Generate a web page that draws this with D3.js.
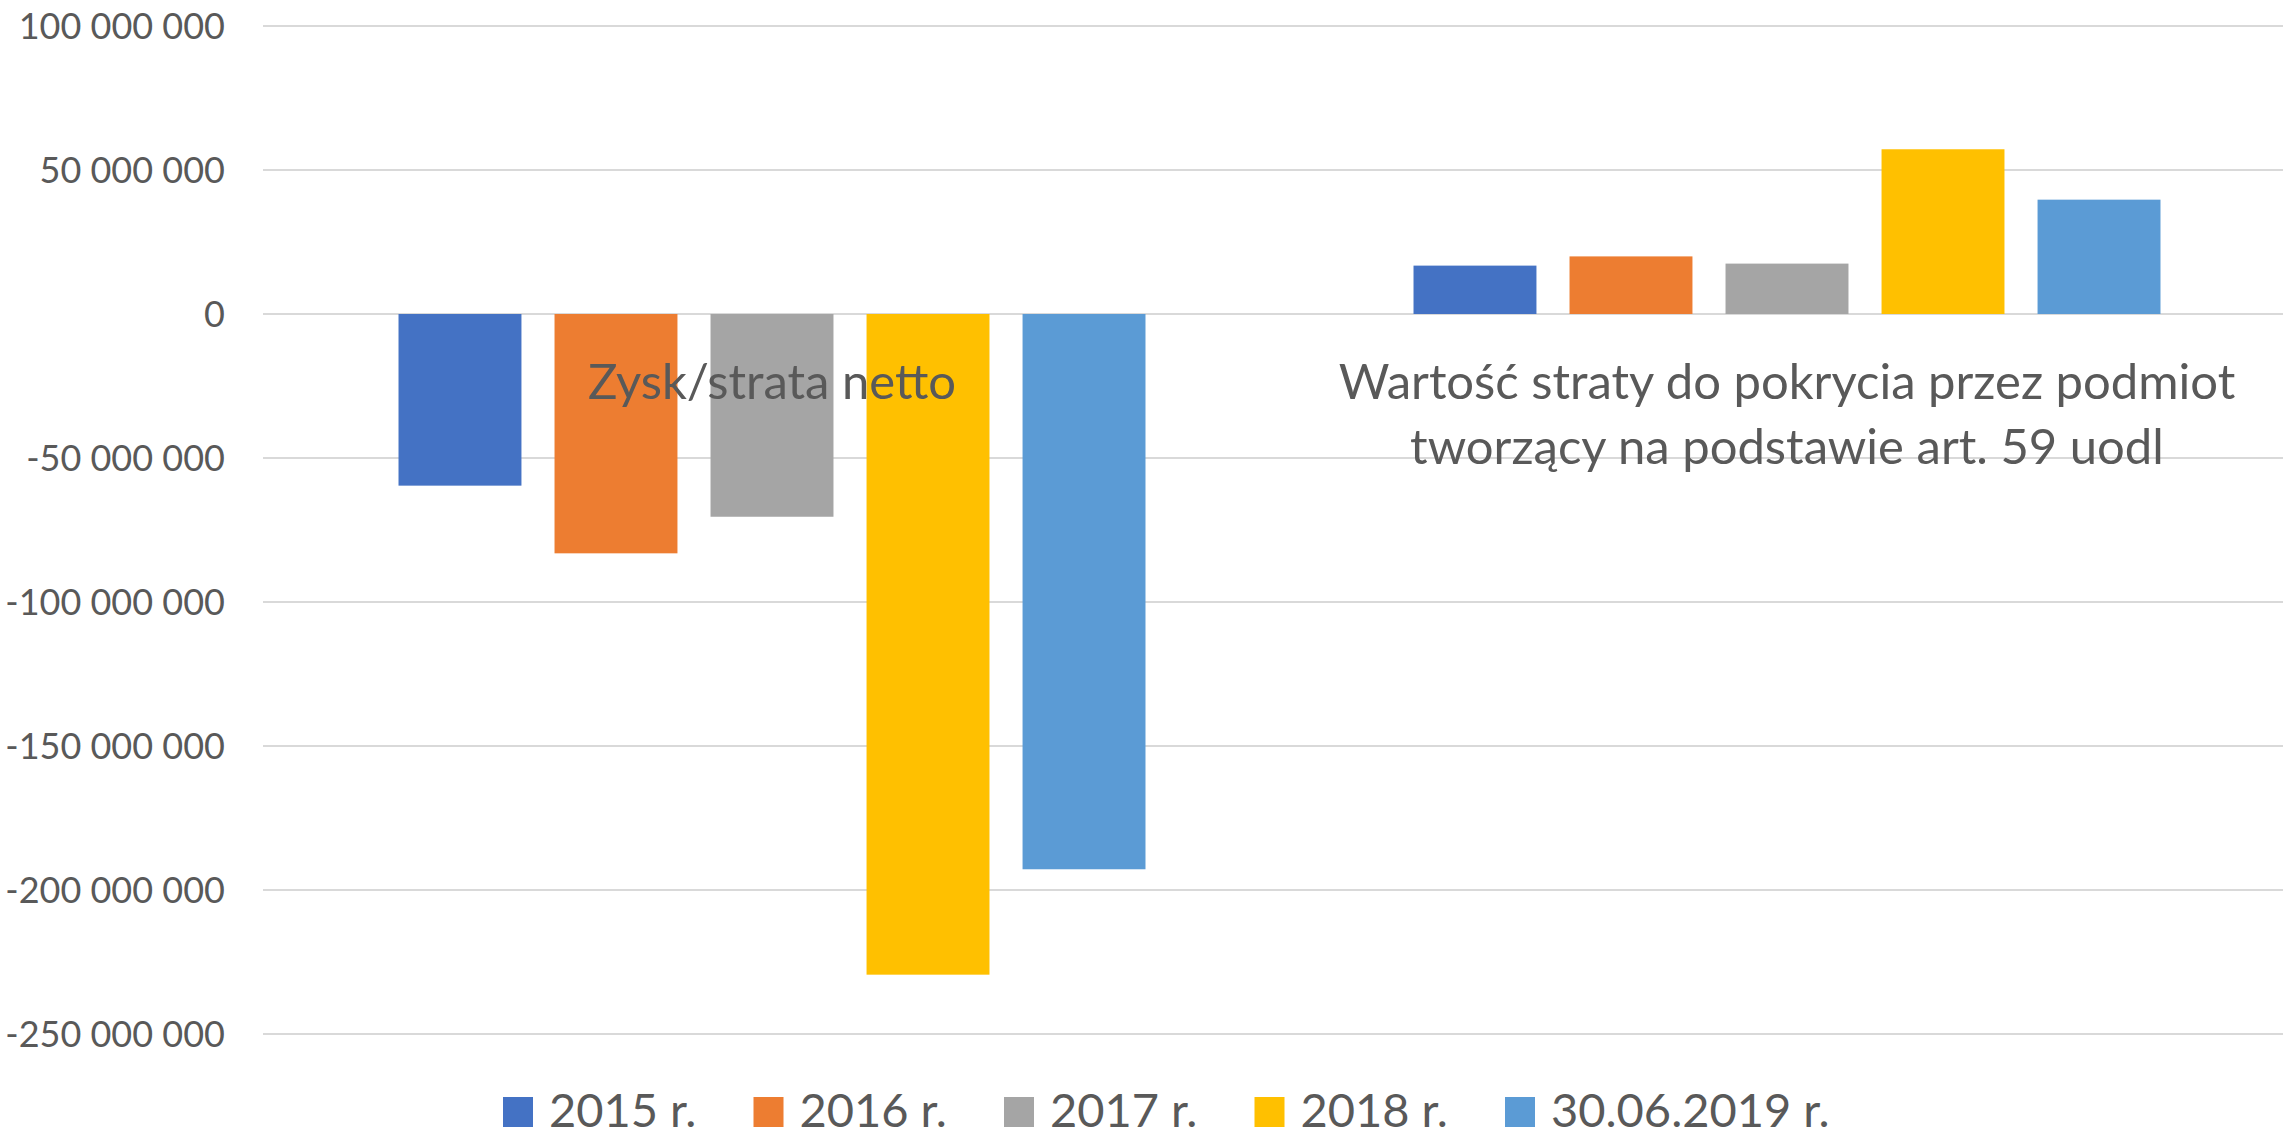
<!DOCTYPE html>
<meta charset="utf-8">
<head>
	<title>Zysk/strata netto</title>
</head>

<style>
body{
	margin: 0;
	background: #fff;
}

svg text{
	font-family: Lato, "Open Sans", sans-serif;
	fill: #595959;
}

.grid line{
	stroke: #d9d9d9;
	stroke-width: 2px;
}

.y_axis text{
	font-size: 36px;
}

.cat_label{
	font-size: 49px;
}

.legend text{
	font-size: 47px;
}
</style>

<body>
	<svg class='chart' width="2283" height="1133"></svg>

<script src="https://cdnjs.cloudflare.com/ajax/libs/d3/7.8.5/d3.min.js"></script>
<script>

var categories = ['Zysk/strata netto', 'Wartość straty do pokrycia przez podmiot tworzący na podstawie art. 59 uodl'];
var series = ['2015 r.', '2016 r.', '2017 r.', '2018 r.', '30.06.2019 r.'];
var colors = ['#4472C4', '#ED7D31', '#A5A5A5', '#FFC000', '#5B9BD5'];

// wartości wg serii: [zysk/strata, wartość straty do pokrycia]
var v2015 = [-59600000, 16800000];
var v2016 = [-83100000, 20000000];
var v2017 = [-70400000, 17500000];
var v2018 = [-229400000, 57200000];
var v2019 = [-192800000, 39700000];

var y_ticks = [100000000, 50000000, 0, -50000000, -100000000, -150000000, -200000000, -250000000];

var values = [v2015, v2016, v2017, v2018, v2019];

var svg = d3.select('.chart');

var y = d3.scaleLinear()
	.domain([-250000000, 100000000])
	.range([1034, 26]);

var x0 = d3.scaleBand()
	.domain(categories)
	.range([264.5, 2294.5]);

var x1 = d3.scaleBand()
	.domain(series)
	.range([0, x0.bandwidth()])
	.paddingInner(0.212)
	.paddingOuter(0.859);

var pl = d3.formatLocale({decimal: ',', thousands: ' ', grouping: [3], currency: ['', ''], minus: '-'});
var fmt = pl.format(',d');

// linie siatki
svg.append('g')
	.attr('class', 'grid')
	.selectAll('line')
	.data(y_ticks)
	.enter()
	.append('line')
	.attr('x1', 263)
	.attr('x2', 2283)
	.attr('y1', function(d){ return y(d); })
	.attr('y2', function(d){ return y(d); });

// oś Y
var y_axis = svg.append('g')
	.attr('class', 'y_axis')
	.attr('transform', 'translate(263, 0)')
	.call(d3.axisLeft(y).tickValues(y_ticks).tickFormat(fmt).tickSize(0).tickPadding(38));
y_axis.select('.domain').remove();
y_axis.selectAll('text').attr('dy', '0.35em');

// słupki
var groups = svg.append('g')
	.selectAll('g')
	.data(categories)
	.enter()
	.append('g')
	.attr('transform', function(d){ return 'translate(' + x0(d) + ',0)'; });

groups.selectAll('rect')
	.data(function(c, ci){
		return series.map(function(s, si){
			return {s: s, v: values[si][ci], color: colors[si]};
		});
	})
	.enter()
	.append('rect')
	.attr('x', function(d){ return x1(d.s); })
	.attr('width', x1.bandwidth())
	.attr('y', function(d){ return y(Math.max(0, d.v)); })
	.attr('height', function(d){ return Math.abs(y(d.v) - y(0)); })
	.attr('fill', function(d){ return d.color; });

// etykiety kategorii (zawijane)
var max_w = x0.bandwidth() * 0.95;
categories.forEach(function(c){
	var cx = x0(c) + x0.bandwidth() / 2;
	var t = svg.append('text')
		.attr('class', 'cat_label')
		.attr('text-anchor', 'middle')
		.attr('x', cx)
		.attr('y', 399);
	var words = c.split(' ');
	var line = [];
	var tspan = t.append('tspan').attr('x', cx).attr('dy', 0);
	words.forEach(function(w){
		line.push(w);
		tspan.text(line.join(' '));
		if(tspan.node().getComputedTextLength() > max_w && line.length > 1){
			line.pop();
			tspan.text(line.join(' '));
			line = [w];
			tspan = t.append('tspan')
				.attr('x', cx)
				.attr('dy', 65)
				.text(w);
		}
	});
});

// legenda
var legend = svg.append('g')
	.attr('class', 'legend')
	.selectAll('g')
	.data(series)
	.enter()
	.append('g')
	.attr('transform', function(d, i){ return 'translate(' + (503 + i * 250.5) + ',1097)'; });

legend.append('rect')
	.attr('width', 30)
	.attr('height', 30)
	.attr('fill', function(d, i){ return colors[i]; });

legend.append('text')
	.attr('x', 46)
	.attr('y', 30)
	.text(function(d){ return d; });

</script>
</body>
</html>
